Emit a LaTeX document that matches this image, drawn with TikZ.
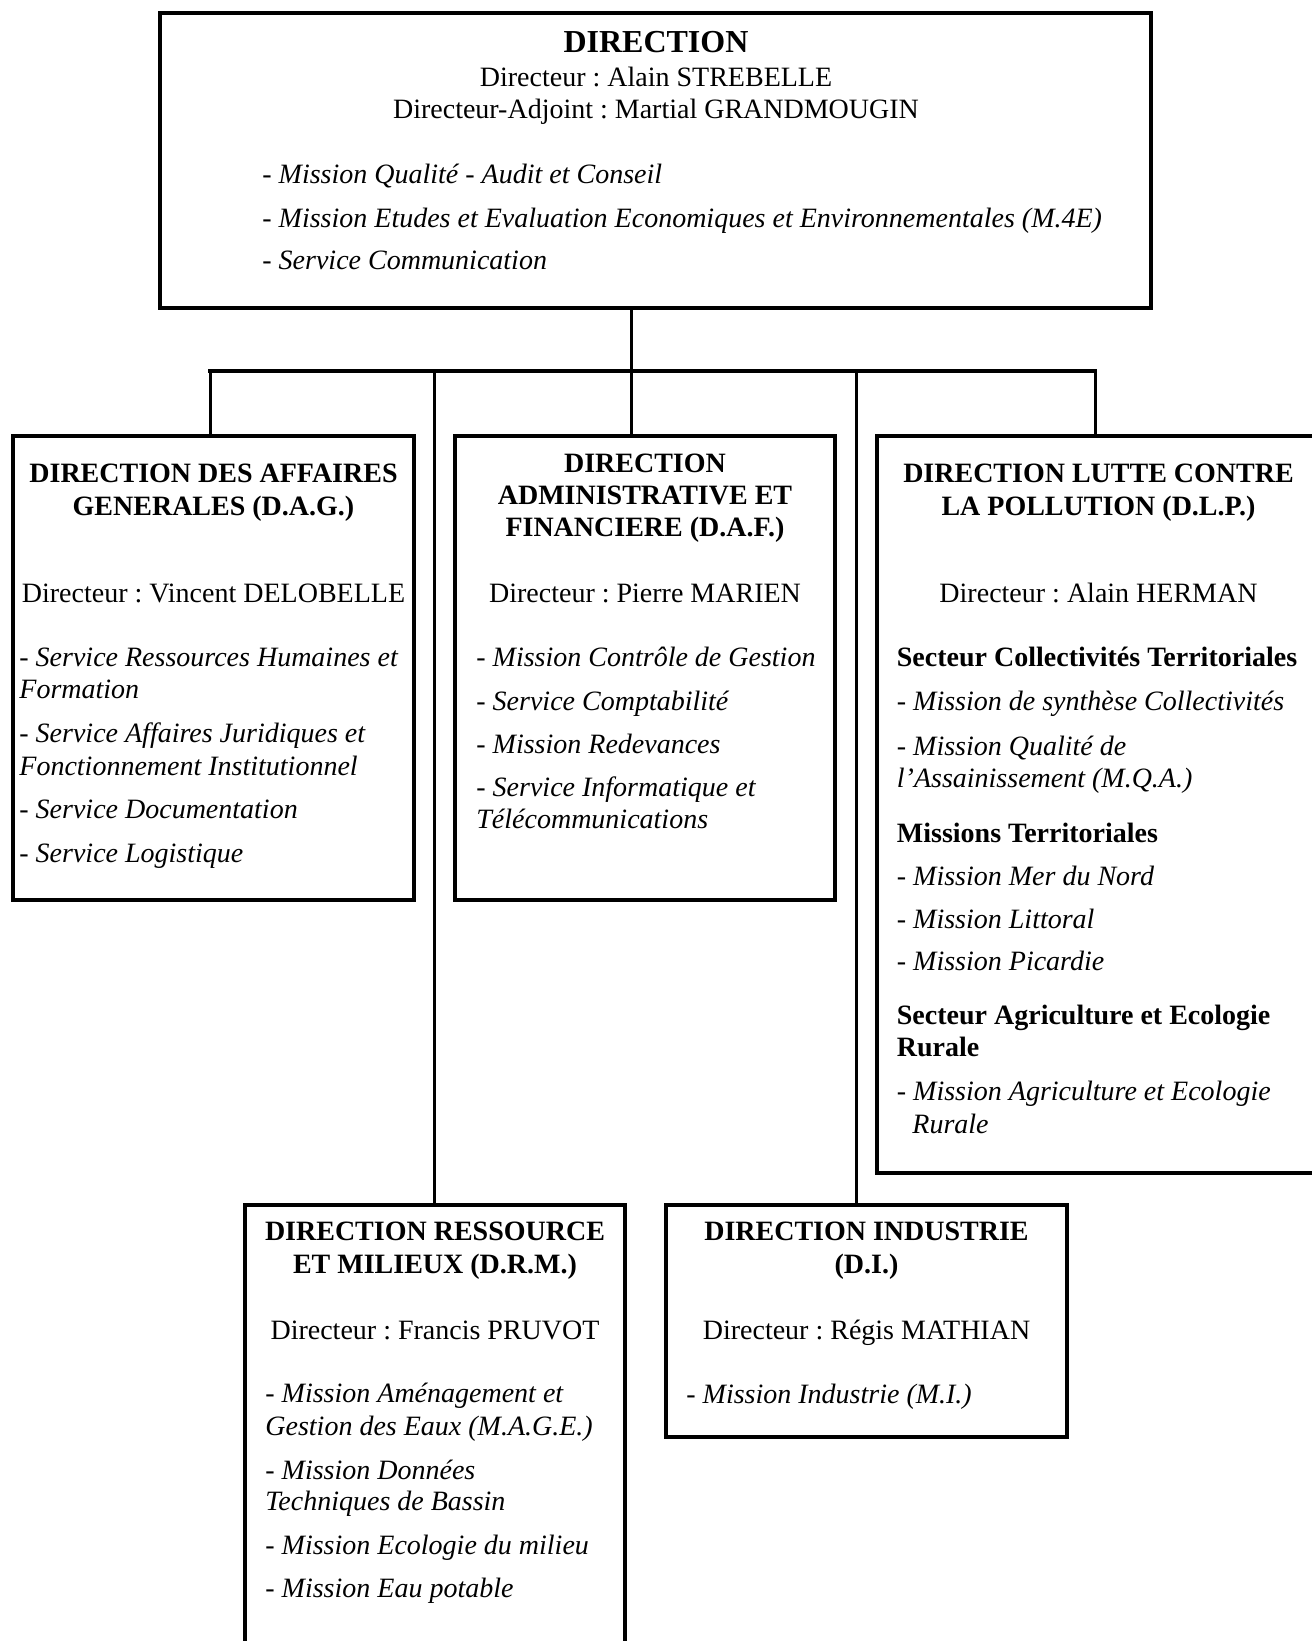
\documentclass[tikz,border=0pt]{standalone}
\usepackage{fontspec}
\setmainfont{Liberation Serif}
\usetikzlibrary{fit}
\frenchspacing

\tikzset{
	box/.style={draw, line width=2pt, inner sep=0pt},
	link/.style={line width=1.5pt},
	head/.style={font=\fontsize{14}{16}\selectfont\bfseries, anchor=base, inner sep=0pt},
	txt/.style={font=\fontsize{14}{16}\selectfont, anchor=base, inner sep=0pt},
	item/.style={font=\fontsize{14}{16}\selectfont\itshape, anchor=base west, inner sep=0pt},
	sect/.style={font=\fontsize{14}{16}\selectfont\bfseries, anchor=base west, inner sep=0pt}
}

\begin{document}
\begin{tikzpicture}[x=0.5pt, y=-0.5pt, line cap=rect]
		\useasboundingbox (0,0) rectangle (1311,1641);
		% boxes
		\node[box, fit={(160,13) (1151,308)}] (dir) {};
		\node[box, fit={(13,436) (414,900)}] (dag) {};
		\node[box, fit={(455,436) (835,900)}] (daf) {};
		\node[box, fit={(877,436) (1320,1173)}] (dlp) {};
		\node[box, fit={(245,1205) (625,1700)}] (drm) {};
		\node[box, fit={(666,1205) (1067,1437)}] (di) {};
		% junctions
		\coordinate (bar) at (631,371);
		\coordinate (bl) at (210,371);
		\coordinate (br) at (1095,371);
		\coordinate (ml) at (434,371);
		\coordinate (mr) at (856,371);
		% connectors
		\draw[link] (dir.south -| bar) -- (bar);
		\draw[line width=2pt] (bl) -- (br);
		\draw[link] (bl) -- (bl |- dag.north) (bar) -- (bar |- daf.north) (br) -- (br |- dlp.north);
		\draw[link] (ml) -- (ml |- drm.north) (mr) -- (mr |- di.north);
		% direction
		\node[head, font=\fontsize{16}{18}\selectfont\bfseries] (dir-t) at (656,53) {DIRECTION};
		\node[txt] (dir-d1) at (656,87) {Directeur : Alain STREBELLE};
		\node[txt] (dir-d2) at (656,119) {Directeur-Adjoint : Martial GRANDMOUGIN};
		\foreach \y/\t [count=\i] in {184/{- Mission Qualité - Audit et Conseil},
			228/{- Mission Etudes et Evaluation Economiques et Environnementales (M.4E)},
			270/{- Service Communication}}
		\node[item] (dir-\i) at (262,\y) {\t};
		% D.A.G.
		\node[head] (dag-t1) at (213.5,483) {DIRECTION DES AFFAIRES};
		\node[head] (dag-t2) at (213.5,515.5) {GENERALES (D.A.G.)};
		\node[txt] (dag-d) at (213.5,602) {Directeur : Vincent DELOBELLE};
		\foreach \y/\t [count=\i] in {666/{- Service Ressources Humaines et}, 698.5/Formation,
			742.5/{- Service Affaires Juridiques et}, 775/{Fonctionnement Institutionnel},
			818/{- Service Documentation}, 862/{- Service Logistique}}
		\node[item] (dag-\i) at (19,\y) {\t};
		% D.A.F.
		\node[head] (daf-t1) at (645,472.5) {DIRECTION};
		\node[head] (daf-t2) at (645,505) {ADMINISTRATIVE ET};
		\node[head] (daf-t3) at (645,537) {FINANCIERE (D.A.F.)};
		\node[txt] (daf-d) at (645,602) {Directeur : Pierre MARIEN};
		\foreach \y/\t [count=\i] in {666/{- Mission Contrôle de Gestion}, 710/{- Service Comptabilité},
			753/{- Mission Redevances}, 796/{- Service Informatique et}, 828/Télécommunications}
		\node[item] (daf-\i) at (476,\y) {\t};
		% D.L.P.
		\node[head] (dlp-t1) at (1098.5,483) {DIRECTION LUTTE CONTRE};
		\node[head] (dlp-t2) at (1098.5,515.5) {LA POLLUTION (D.L.P.)};
		\node[txt] (dlp-d) at (1098.5,602) {Directeur : Alain HERMAN};
		\node[sect] (dlp-s1) at (896.5,666) {Secteur Collectivités Territoriales};
		\node[sect] (dlp-s2) at (896.5,842) {Missions Territoriales};
		\node[sect] (dlp-s3) at (896.5,1024) {Secteur Agriculture et Ecologie};
		\node[sect] (dlp-s4) at (896.5,1056) {Rurale};
		\foreach \y/\t [count=\i] in {710/{- Mission de synthèse Collectivités}, 755/{- Mission Qualité de},
			787/{l’Assainissement (M.Q.A.)}, 885/{- Mission Mer du Nord}, 928/{- Mission Littoral},
			970.5/{- Mission Picardie}, 1100/{- Mission Agriculture et Ecologie}}
		\node[item] (dlp-\i) at (896.5,\y) {\t};
		\node[item] (dlp-8) at (912,1133) {Rurale};
		% D.R.M.
		\node[head] (drm-t1) at (435,1240.5) {DIRECTION RESSOURCE};
		\node[head] (drm-t2) at (435,1273) {ET MILIEUX (D.R.M.)};
		\node[txt] (drm-d) at (435,1339) {Directeur : Francis PRUVOT};
		\foreach \y/\t [count=\i] in {1402.5/{- Mission Aménagement et}, 1435/{Gestion des Eaux (M.A.G.E.)},
			1479/{- Mission Données}, 1510.5/{Techniques de Bassin},
			1554.5/{- Mission Ecologie du milieu}, 1597/{- Mission Eau potable}}
		\node[item] (drm-\i) at (265,\y) {\t};
		% D.I.
		\node[head] (di-t1) at (866.5,1240.5) {DIRECTION INDUSTRIE};
		\node[head] (di-t2) at (866.5,1273) {(D.I.)};
		\node[txt] (di-d) at (866.5,1339) {Directeur : Régis MATHIAN};
		\node[item] (di-1) at (686,1403.5) {- Mission Industrie (M.I.)};
	\end{tikzpicture}
\end{document}
